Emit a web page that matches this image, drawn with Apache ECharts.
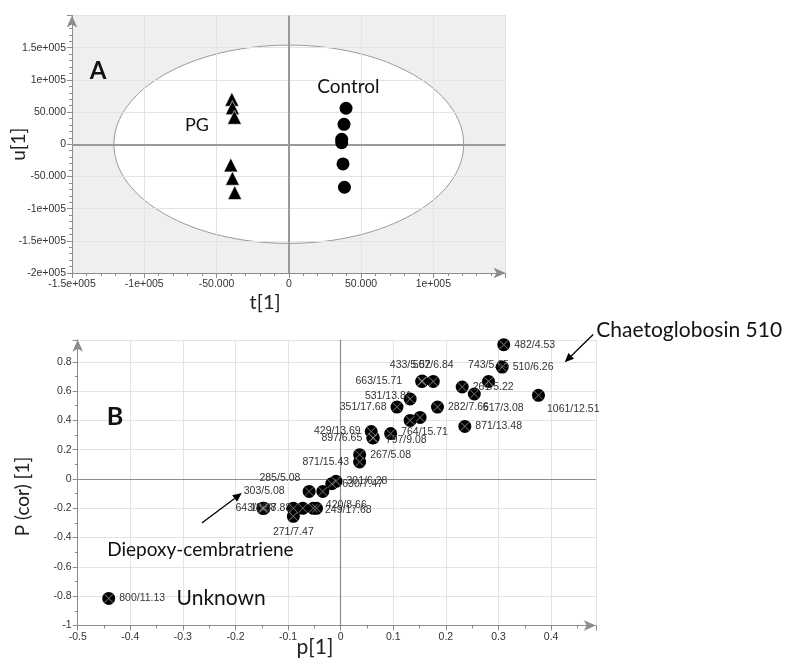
<!DOCTYPE html>
<html><head><meta charset="utf-8">
<script src="https://cdn.jsdelivr.net/npm/echarts@6/dist/echarts.min.js"></script>
<style>html,body{margin:0;padding:0;background:#fff}#c{width:787px;height:661px}</style>
</head><body><div id="c"></div>
<script>
// ---------- Panel A : scores ----------
const pgT   = [-39400, -39000, -37600, -40100, -39000, -37400];
const pgU   = [69900, 56800, 41900, -32100, -52800, -75100];
const ctrlT = [39600, 38200, 36600, 36600, 37500, 38500];
const ctrlU = [55900, 31000, 7800, 2500, -30600, -66800];
// ellipse: centre t, centre u, semi-axis t, semi-axis u
const ellipseA = [0, 0, 121000, 154000];
const tTickValues = [-150000, -100000, -50000, 0, 50000, 100000];
const tTickLabels = ['-1.5e+005', '-1e+005', '-50.000', '0', '50.000', '1e+005'];
const uTickValues = [150000, 100000, 50000, 0, -50000, -100000, -150000, -200000];
const uTickLabels = ['1.5e+005', '1e+005', '50.000', '0', '-50.000', '-1e+005', '-1.5e+005', '-2e+005'];

// ---------- Panel B : S-plot ----------
const pLoad = [0.310, 0.307, 0.281, 0.231, 0.254, 0.376, 0.236, 0.184, 0.154, 0.176, 0.155,
               0.132, 0.107, 0.132, 0.151, 0.058, 0.061, 0.095, 0.062, 0.036, 0.036,
               -0.009, -0.017, -0.034, -0.060, -0.146, -0.148, -0.090, -0.090, -0.072, -0.052, -0.046,
               -0.441];
const pCorr = [0.917, 0.764, 0.666, 0.628, 0.580, 0.571, 0.359, 0.491, 0.666, 0.666, 0.668,
               0.546, 0.491, 0.400, 0.420, 0.324, 0.280, 0.310, 0.282, 0.166, 0.116,
               -0.016, -0.032, -0.085, -0.085, -0.200, -0.200, -0.200, -0.255, -0.200, -0.200, -0.200,
               -0.815];
const pLabels = ['482/4.53', '510/6.26', '743/5.65', '261/5.22', '517/3.08', '1061/12.51', '871/13.48', '282/7.66',
                 '663/15.71', '507/6.84', '433/5.52', '531/13.81', '351/17.68', '', '', '429/13.69', '897/6.65',
                 '764/15.71', '797/9.08', '267/5.08', '871/15.43',
                 '301/6.28', '630/7.47', '285/5.08', '303/5.08', '643/8.68', '138/7.88', '', '271/7.47', '',
                 '420/8.66', '249/17.68', '800/11.13'];

// label placement (style only)
const labelPlace = {
  '743/5.65': ['top', [0, 0]], '517/3.08': ['right', [-2, 14]], '1061/12.51': ['right', [-2, 14]],
  '663/15.71': ['left', [-9, 0]], '507/6.84': ['top', [0, 0]], '433/5.52': ['top', [-12, 0]],
  '531/13.81': ['left', [12, -3]], '351/17.68': ['left', [0, 0]], '429/13.69': ['left', [0, 0]],
  '897/6.65': ['left', [0, 0]], '797/9.08': ['right', [2, 2]], '871/15.43': ['left', [0, 0]],
  '285/5.08': ['left', [-12, -13]], '303/5.08': ['left', [-14, 0]], '643/8.68': ['inside', [-8, 0]],
  '138/7.88': ['inside', [8, 0]], '271/7.47': ['bottom', [0, 0]], '420/8.66': ['right', [2, -3]],
  '249/17.68': ['right', [-2, 2]], '764/15.71': ['right', [0, -1]]
};

// annotations (data coordinates)
const annotA = [
  {text: 'A', at: [-132000, 112700], size: 24, bold: true},
  {text: 'PG', at: [-63600, 30000], size: 18},
  {text: 'Control', at: [41200, 88500], size: 19}
];
const annotB = [
  {text: 'B', at: [-0.429, 0.425], size: 25, bold: true, align: 'center'},
  {text: 'Chaetoglobosin 510', at: [0.486, 1.012], size: 21, align: 'left'},
  {text: 'Diepoxy-cembratriene', at: [-0.444, -0.483], size: 19, align: 'left'},
  {text: 'Unknown', at: [-0.312, -0.812], size: 21, align: 'left'}
];
const arrowsB = [
  {from: [0.480, 0.986], to: [0.426, 0.797]},
  {from: [-0.264, -0.300], to: [-0.188, -0.096]}
];
const axisTitles = [
  {grid: 0, text: 'u[1]', at: [-187000, 0], size: 19, rotate: true},
  {grid: 0, text: 't[1]', at: [-16400, -246000], size: 20},
  {grid: 1, text: 'P (cor) [1]', at: [-0.604, -0.12], size: 19, rotate: true},
  {grid: 1, text: 'p[1]', at: [-0.049, -1.15], size: 21}
];

const tickFont = {fontFamily: 'Liberation Sans', fontSize: 10.5, color: '#333'};
const annFont = 'Lato';
const axisGray = '#8c8c8c';

function mapLabel(vals, labs) {
  return v => { const i = vals.findIndex(x => Math.abs(x - v) < 1e-6); return i >= 0 ? labs[i] : ''; };
}
function baseAxis(extra) {
  return Object.assign({
    type: 'value',
    z: 3,
    axisLine: {show: true, onZero: false, symbol: ['none', 'arrow'], symbolSize: [8, 12],
               lineStyle: {color: axisGray, width: 1}},
    axisTick: {show: true, length: 5, lineStyle: {color: axisGray}},
    minorTick: {show: true, length: 3, lineStyle: {color: axisGray}},
    splitLine: {show: true, lineStyle: {color: '#e3e3e3', width: 1}},
    axisLabel: Object.assign({showMaxLabel: false, margin: 6}, tickFont)
  }, extra);
}

const chart = echarts.init(document.getElementById('c'), null, {renderer: 'canvas'});

const bData = pLoad.map((x, i) => {
  const lab = pLabels[i];
  const pl = labelPlace[lab] || ['right', [0, 0]];
  return {value: [x, pCorr[i], lab],
          label: {show: lab !== '', position: pl[0], offset: pl[1], distance: 4}};
});

const option = {
  animation: false,
  backgroundColor: '#fff',
  grid: [
    {left: 72, top: 15.5, width: 433.6, height: 257.5, show: true, backgroundColor: '#efefef', borderWidth: 0},
    {left: 77.7, top: 339.8, width: 518.1, height: 285.7, show: true, backgroundColor: '#fff', borderWidth: 0}
  ],
  xAxis: [
    baseAxis({gridIndex: 0, min: -150000, max: 150000, interval: 50000,
      minorTick: {show: true, splitNumber: 5, length: 3, lineStyle: {color: axisGray}},
      axisLabel: Object.assign({showMaxLabel: false, margin: 6, formatter: mapLabel(tTickValues, tTickLabels)}, tickFont)}),
    baseAxis({gridIndex: 1, min: -0.5, max: 0.485, interval: 0.1,
      minorTick: {show: true, splitNumber: 2, length: 3, lineStyle: {color: axisGray}}})
  ],
  yAxis: [
    baseAxis({gridIndex: 0, min: -200000, max: 200000, interval: 50000,
      minorTick: {show: true, splitNumber: 5, length: 3, lineStyle: {color: axisGray}},
      axisLabel: Object.assign({showMaxLabel: false, margin: 6, formatter: mapLabel(uTickValues, uTickLabels)}, tickFont)}),
    baseAxis({gridIndex: 1, min: -1, max: 0.95, interval: 0.2,
      minorTick: {show: true, splitNumber: 2, length: 3, lineStyle: {color: axisGray}}})
  ],
  series: [
    {
      type: 'custom', xAxisIndex: 0, yAxisIndex: 0, z: 1, silent: true, clip: false,
      data: [ellipseA], encode: {x: 0, y: 1},
      renderItem: (params, api) => {
        const c = api.coord([api.value(0), api.value(1)]);
        const s = api.size([api.value(2), api.value(3)]);
        return {type: 'ellipse', shape: {cx: c[0], cy: c[1], rx: s[0], ry: s[1]},
                style: {fill: '#ffffff', stroke: '#9a9a9a', lineWidth: 1}};
      }
    },
    {
      type: 'scatter', xAxisIndex: 0, yAxisIndex: 0, z: 5, symbol: 'triangle', symbolSize: 14,
      itemStyle: {color: '#000', opacity: 1, borderColor: '#fff', borderWidth: 0.6},
      data: pgT.map((t, i) => [t, pgU[i]]),
      markLine: {silent: true, symbol: 'none', label: {show: false},
        lineStyle: {color: '#9a9a9a', type: 'solid', width: 2},
        data: [{xAxis: 0}, {yAxis: 0}]}
    },
    {
      type: 'scatter', xAxisIndex: 0, yAxisIndex: 0, z: 5, symbol: 'circle', symbolSize: 13,
      itemStyle: {color: '#000', opacity: 1},
      data: ctrlT.map((t, i) => [t, ctrlU[i]])
    },
    {
      type: 'scatter', xAxisIndex: 1, yAxisIndex: 1, z: 5, symbol: 'circle', symbolSize: 13,
      itemStyle: {color: '#000', opacity: 1},
      label: {show: true, formatter: p => p.value[2], fontFamily: 'Liberation Sans', fontSize: 10.5, color: '#333'},
      data: bData,
      markLine: {silent: true, symbol: 'none', label: {show: false},
        lineStyle: {color: axisGray, type: 'solid', width: 1.2},
        data: [{xAxis: 0}, {yAxis: 0}]}
    },
    {
      type: 'scatter', xAxisIndex: 1, yAxisIndex: 1, z: 6, silent: true,
      symbol: 'path://M0,6 L6,0 L50,44 L94,0 L100,6 L56,50 L100,94 L94,100 L50,56 L6,100 L0,94 L44,50 Z',
      symbolSize: 9, itemStyle: {color: 'rgba(255,255,255,0.45)', opacity: 1},
      data: pLoad.map((x, i) => [x, pCorr[i]])
    }
  ]
};
chart.setOption(option);

// ---------- annotations placed through the coordinate system ----------
const g = [];
function px(gi, pt) { return chart.convertToPixel({gridIndex: gi}, pt); }
annotA.forEach(a => {
  const p = px(0, a.at);
  g.push({type: 'text', x: p[0], y: p[1], z: 100,
    style: {text: a.text, fontFamily: annFont, fontSize: a.size, fontWeight: a.bold ? 'bold' : 'normal',
            fill: '#111', align: 'center', verticalAlign: 'middle'}});
});
annotB.forEach(a => {
  const p = px(1, a.at);
  g.push({type: 'text', x: p[0], y: p[1], z: 100,
    style: {text: a.text, fontFamily: annFont, fontSize: a.size, fontWeight: a.bold ? 'bold' : 'normal',
            fill: '#111', align: a.align, verticalAlign: 'middle'}});
});
axisTitles.forEach(a => {
  const p = px(a.grid, a.at);
  g.push({type: 'text', x: p[0], y: p[1], z: 100, rotation: a.rotate ? Math.PI / 2 : 0,
    style: {text: a.text, fontFamily: annFont, fontSize: a.size, fill: '#222', align: 'center', verticalAlign: 'middle'}});
});
arrowsB.forEach(a => {
  const p1 = px(1, a.from), p2 = px(1, a.to);
  const dx = p2[0] - p1[0], dy = p2[1] - p1[1], L = Math.hypot(dx, dy);
  const ux = dx / L, uy = dy / L, hl = 9, hw = 4;
  const bx = p2[0] - ux * hl, by = p2[1] - uy * hl;
  g.push({type: 'line', z: 100, shape: {x1: p1[0], y1: p1[1], x2: bx, y2: by}, style: {stroke: '#000', lineWidth: 1.3}});
  g.push({type: 'polygon', z: 100, shape: {points: [[p2[0], p2[1]], [bx - uy * hw, by + ux * hw], [bx + uy * hw, by - ux * hw]]},
    style: {fill: '#000'}});
});
chart.setOption({graphic: g});
</script>
</body></html>
